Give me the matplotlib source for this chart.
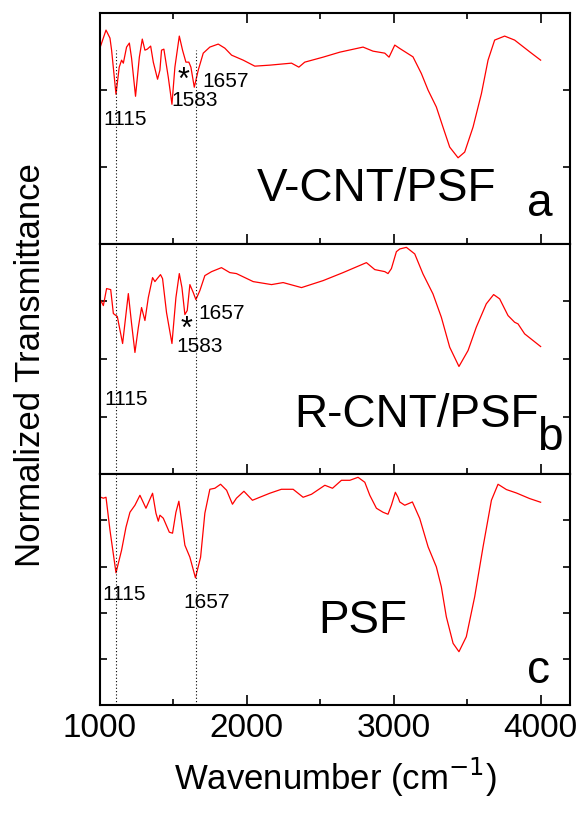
import matplotlib
matplotlib.use("Agg")
import matplotlib.pyplot as plt
from matplotlib.ticker import MultipleLocator

plt.rcParams['font.family'] = ['Liberation Sans', 'DejaVu Sans']

# spectrum a : V-CNT/PSF  (wavenumber, normalized transmittance, arbitrary units)
wa = [1000, 1041, 1068, 1079, 1109, 1131, 1147, 1159, 1181, 1200, 1215, 1242, 1268, 1288,
      1306, 1322, 1345, 1363, 1392, 1408, 1419, 1435, 1465, 1490, 1510, 1540, 1562, 1585,
      1605, 1619, 1642, 1669, 1703, 1748, 1805, 1850, 1896, 1975, 2054, 2156, 2304, 2354,
      2394, 2519, 2633, 2791, 2859, 2939, 2968, 3007, 3041, 3131, 3188, 3234, 3290, 3335,
      3381, 3438, 3483, 3540, 3597, 3642, 3687, 3755, 3823, 3925, 4000]
ta = [2.547, 2.778, 2.674, 2.517, 1.943, 2.296, 2.387, 2.348, 2.557, 2.609, 2.413, 1.917,
      2.426, 2.661, 2.517, 2.530, 2.570, 2.361, 2.139, 2.257, 2.517, 2.530, 2.165, 1.813,
      2.296, 2.700, 2.517, 2.361, 2.361, 2.296, 2.035, 2.257, 2.478, 2.557, 2.596, 2.543,
      2.452, 2.387, 2.309, 2.322, 2.348, 2.296, 2.361, 2.426, 2.491, 2.557, 2.504, 2.478,
      2.426, 2.583, 2.539, 2.430, 2.213, 1.996, 1.778, 1.517, 1.256, 1.117, 1.191, 1.517,
      1.952, 2.387, 2.648, 2.700, 2.648, 2.496, 2.387]

# spectrum b : R-CNT/PSF
wb = [1000, 1023, 1045, 1073, 1091, 1118, 1154, 1193, 1215, 1238, 1261, 1283, 1306, 1329,
      1358, 1374, 1390, 1412, 1426, 1453, 1490, 1517, 1540, 1558, 1578, 1594, 1612, 1635,
      1653, 1680, 1714, 1760, 1827, 1884, 1929, 2043, 2168, 2247, 2372, 2519, 2655, 2814,
      2871, 2939, 2961, 2984, 3018, 3041, 3086, 3143, 3199, 3267, 3324, 3381, 3444, 3506,
      3562, 3630, 3680, 3721, 3778, 3823, 3846, 3891, 4000]
tb = [3.043, 2.926, 3.221, 3.203, 2.788, 2.736, 2.268, 3.134, 2.615, 2.113, 2.545, 2.892,
      2.667, 3.065, 3.411, 3.342, 3.394, 3.463, 3.394, 2.805, 2.268, 3.065, 3.481, 3.238,
      2.771, 2.840, 3.290, 3.152, 3.030, 3.186, 3.446, 3.515, 3.584, 3.498, 3.481, 3.342,
      3.290, 3.325, 3.238, 3.359, 3.498, 3.671, 3.550, 3.515, 3.481, 3.567, 3.861, 3.908,
      3.936, 3.822, 3.475, 3.129, 2.724, 2.204, 1.870, 2.147, 2.551, 2.956, 3.117, 3.043,
      2.753, 2.637, 2.609, 2.436, 2.216]

# spectrum c : PSF
wc = [1000, 1023, 1041, 1068, 1109, 1147, 1177, 1204, 1238, 1272, 1313, 1358, 1381, 1397,
      1408, 1431, 1472, 1494, 1517, 1537, 1555, 1578, 1612, 1650, 1685, 1714, 1748, 1782,
      1821, 1862, 1902, 1929, 1980, 2038, 2088, 2156, 2235, 2315, 2383, 2440, 2531, 2583,
      2644, 2701, 2757, 2803, 2837, 2882, 2927, 2961, 2984, 3011, 3029, 3041, 3075, 3127,
      3177, 3234, 3290, 3324, 3358, 3404, 3444, 3494, 3551, 3608, 3665, 3710, 3767, 3835,
      3925, 4000]
tc = [4.509, 4.481, 4.502, 3.788, 2.864, 3.355, 3.853, 4.177, 4.329, 4.545, 4.264, 4.589,
      4.156, 3.983, 4.113, 4.048, 3.745, 3.723, 4.177, 4.416, 4.004, 3.463, 3.203, 2.755,
      3.203, 4.156, 4.675, 4.697, 4.784, 4.654, 4.351, 4.481, 4.632, 4.437, 4.502, 4.589,
      4.675, 4.675, 4.502, 4.567, 4.762, 4.697, 4.870, 4.870, 4.935, 4.827, 4.545, 4.264,
      4.177, 4.134, 4.329, 4.610, 4.502, 4.400, 4.329, 4.400, 4.041, 3.426, 2.994, 2.561,
      1.911, 1.335, 1.154, 1.478, 2.344, 3.426, 4.437, 4.784, 4.669, 4.595, 4.474, 4.394]

# marked bands (dotted guide lines)
bands = [1108, 1657]

fig, axes = plt.subplots(3, 1, sharex=True, figsize=(5.83, 8.14), dpi=100)
fig.subplots_adjust(left=0.1715, right=0.9777, top=0.984, bottom=0.134, hspace=0)

data = [(wa, ta, 3), (wb, tb, 4), (wc, tc, 5)]
for i, (ax, (w, t, ymax)) in enumerate(zip(axes, data)):
    ax.plot(w, t, color='red', lw=0.9)
    ax.set_xlim(1000, 4200)
    ax.set_ylim(0, ymax)
    ax.yaxis.set_major_locator(MultipleLocator(1))
    ax.xaxis.set_major_locator(MultipleLocator(1000))
    ax.xaxis.set_minor_locator(MultipleLocator(500))
    ax.tick_params(axis='both', which='both', direction='in', width=1.2,
                   left=True, right=True, top=(i == 0), bottom=True,
                   labelleft=False, labelbottom=(i == 2), labelsize=24, pad=6)
    ax.tick_params(axis='x', which='major', length=7)
    ax.tick_params(axis='x', which='minor', length=4)
    ax.tick_params(axis='y', which='major', length=5)
    for s in ax.spines.values():
        s.set_linewidth(1.5)
    top = 0.84 if i == 0 else 1.0
    for b in bands:
        ax.axvline(b, ymin=0, ymax=top, color='black', ls=(0, (1, 2)), lw=0.8)

fs = 15
big = 33
ax = axes[0]
ax.text(1020, 1.539, '1115', fontsize=fs)
ax.text(1571, 2.009, '*', fontsize=22, ha='center')
ax.text(1694, 2.035, '1657', fontsize=fs)
ax.text(1483, 1.787, '1583', fontsize=fs)
ax.text(2068, 0.561, 'V-CNT/PSF', fontsize=big)
ax.text(3993, 0.365, 'a', fontsize=big, ha='center')

ax = axes[1]
ax.text(1673, 2.701, '1657', fontsize=fs)
ax.text(1592, 2.372, '*', fontsize=22, ha='center')
ax.text(1517, 2.113, '1583', fontsize=fs)
ax.text(1027, 1.195, '1115', fontsize=fs)
ax.text(2320, 0.814, 'R-CNT/PSF', fontsize=big)
ax.text(4062, 0.416, 'b', fontsize=big, ha='center')

ax = axes[2]
ax.text(1014, 2.273, '1115', fontsize=fs)
ax.text(1565, 2.100, '1657', fontsize=fs)
ax.text(2483, 1.558, 'PSF', fontsize=big)
ax.text(3986, 0.476, 'c', fontsize=big, ha='center')

axes[2].set_xlabel('Wavenumber (cm$^{-1}$)', fontsize=25, labelpad=8)
fig.text(0.052, 0.552, 'Normalized Transmittance', rotation=90, fontsize=25,
         ha='center', va='center')

fig.savefig('out.png', dpi=100)
